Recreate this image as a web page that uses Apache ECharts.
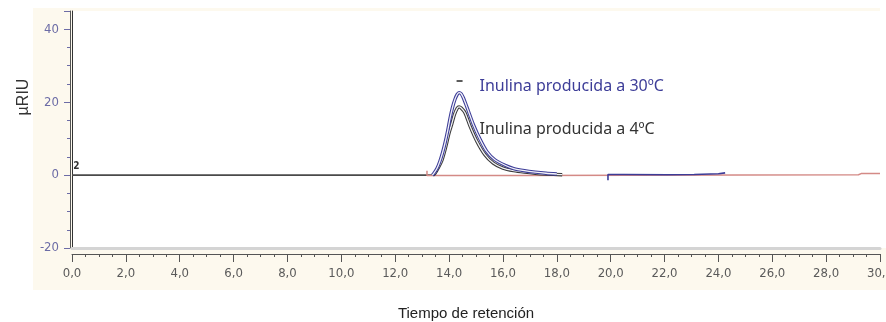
<!DOCTYPE html>
<html>
<head>
<meta charset="utf-8">
<script src="https://cdn.jsdelivr.net/npm/echarts@6/dist/echarts.min.js"></script>
<style>
  html, body { margin: 0; padding: 0; background: #ffffff; }
  #chart { width: 886px; height: 322px; }
</style>
</head>
<body>
<div id="chart"></div>
<script>
// Refractive-index chromatogram of two inulin samples (retention time in minutes, signal in µRIU)

// Flat baseline before the injection peak
const baseTime   = [0, 13.40];
const baseSignal = [0, 0];

// Inulin produced at 4 ºC
const time4C   = [13.40, 13.48, 13.60, 13.72, 13.82, 13.91, 14.00, 14.10, 14.20, 14.30, 14.37, 14.45, 14.59, 14.78, 15.03, 15.33, 15.64, 16.00, 16.40, 16.80, 17.20, 17.60, 18.20];
const signal4C = [0, 0.5, 2.0, 3.8, 6.2, 8.8, 11.6, 14.0, 16.6, 18.3, 18.7, 18.4, 17.1, 13.4, 9.3, 5.6, 3.3, 1.9, 1.2, 0.8, 0.5, 0.3, 0.1];

// Inulin produced at 30 ºC
const time30C   = [13.38, 13.42, 13.55, 13.66, 13.76, 13.85, 13.95, 14.04, 14.13, 14.22, 14.30, 14.37, 14.45, 14.53, 14.62, 14.72, 14.90, 15.15, 15.40, 15.70, 16.08, 16.40, 16.80, 17.20, 17.60, 18.00];
const signal30C = [0, 0.3, 1.8, 3.8, 6.2, 8.8, 12.2, 15.7, 18.6, 20.8, 22.1, 22.6, 22.3, 21.2, 19.5, 17.5, 13.9, 9.8, 6.5, 4.2, 2.7, 1.8, 1.2, 0.8, 0.5, 0.3];

// Late baseline drift of the 30 ºC run
const driftTime   = [19.90, 19.90, 20.50, 22.10, 23.10, 24.00, 24.25];
const driftSignal = [-1.4, 0.15, 0.15, 0.1, 0.15, 0.35, 0.6];

// Integration baseline
const integTime   = [13.18, 13.18, 16.55, 16.55, 29.20, 29.30, 30.00];
const integSignal = [1.2, -0.15, -0.15, 0.1, 0.1, 0.4, 0.4];

// Axis ranges and labels
const timeMin = 0, timeMax = 30, timeStep = 2;
const riuMin = -20, riuMax = 45, riuStep = 20;
const yAxisTitle = 'µRIU';
const xAxisTitle = 'Tiempo de retención';
const label30C = 'Inulina producida a 30ºC';
const label4C  = 'Inulina producida a 4ºC';
const peakTag  = '2';

const zip = (xs, ys) => xs.map((x, i) => [x, ys[i]]);

const NARROW = "'Liberation Sans Narrow', 'DejaVu Sans Condensed', sans-serif";
const BLUE = '#3d3d98';
const DARK = '#3a3a3a';
const AXIS_PURPLE = '#6c6ca6';

const chart = echarts.init(document.getElementById('chart'), null, { renderer: 'canvas' });

const hollowCore = (data) => ({
  type: 'line', data, xAxisIndex: 0, yAxisIndex: 0,
  showSymbol: false, silent: true, smooth: 0.25,
  lineStyle: { color: '#f2f2f8', width: 1.3 }, z: 4
});

const textMark = (coord, text, color) => ({
  coord, symbol: 'rect', symbolSize: 1,
  itemStyle: { color: 'rgba(0,0,0,0)' },
  label: {
    show: true, position: 'right', distance: 0, formatter: text,
    color, fontSize: 16, fontFamily: "'Noto Sans', 'Open Sans', sans-serif"
  }
});

chart.setOption({
  animation: false,
  backgroundColor: '#fdf9ee',
  grid: {
    left: 72, right: 6, top: 11, bottom: 74,
    outerBoundsMode: 'none', containLabel: false,
    show: true, backgroundColor: '#ffffff', borderWidth: 0
  },
  graphic: [
    { type: 'rect', shape: { x: 0, y: 0, width: 33, height: 322 }, style: { fill: '#ffffff' }, silent: true },
    { type: 'rect', shape: { x: 0, y: 0, width: 886, height: 8 }, style: { fill: '#ffffff' }, silent: true },
    { type: 'rect', shape: { x: 0, y: 290, width: 886, height: 32 }, style: { fill: '#ffffff' }, silent: true },
    { type: 'rect', shape: { x: 880, y: 8, width: 6, height: 240 }, style: { fill: '#ffffff' }, silent: true },
    {
      type: 'text', x: 24, y: 97, rotation: Math.PI / 2,
      style: {
        text: yAxisTitle, fill: '#333', fontSize: 16,
        fontFamily: "'Liberation Sans', Arial, sans-serif",
        align: 'center', verticalAlign: 'middle'
      }
    },
    {
      type: 'text', x: 466, y: 314,
      style: {
        text: xAxisTitle, fill: '#222', fontSize: 15,
        fontFamily: "'Liberation Sans', Arial, sans-serif",
        align: 'center', verticalAlign: 'middle'
      }
    }
  ],
  xAxis: [
    {
      type: 'value', min: timeMin, max: timeMax, interval: timeStep,
      position: 'bottom', offset: 0,
      axisLine: { onZero: false, lineStyle: { color: '#d4d4d4', width: 3 } },
      axisTick: { show: false }, axisLabel: { show: false }, splitLine: { show: false }
    },
    {
      type: 'value', min: timeMin, max: timeMax, interval: timeStep,
      position: 'bottom', offset: 6,
      axisLine: { onZero: false, lineStyle: { color: '#555', width: 1 } },
      axisTick: { show: true, length: 8, lineStyle: { color: '#555' } },
      minorTick: { show: true, splitNumber: 4, length: 3, lineStyle: { color: '#555' } },
      axisLabel: {
        margin: 13, color: '#5a5a5a', fontSize: 13, fontFamily: NARROW,
        formatter: (v) => v.toFixed(1).replace('.', ',')
      },
      splitLine: { show: false }
    }
  ],
  yAxis: [
    {
      type: 'value', min: riuMin, max: riuMax, interval: riuStep,
      position: 'left', offset: 0,
      axisLine: { show: true, onZero: false, lineStyle: { color: '#333', width: 1 } },
      axisTick: { show: false }, axisLabel: { show: false }, splitLine: { show: false }
    },
    {
      type: 'value', min: riuMin, max: riuMax, interval: riuStep,
      position: 'left', offset: 2,
      axisLine: { show: true, onZero: false, lineStyle: { color: '#555', width: 1 } },
      axisTick: { show: true, length: 6, lineStyle: { color: AXIS_PURPLE } },
      minorTick: { show: true, splitNumber: 4, length: 3, lineStyle: { color: AXIS_PURPLE } },
      axisLabel: {
        margin: 11, color: AXIS_PURPLE, fontSize: 13, fontFamily: NARROW,
        showMaxLabel: false
      },
      splitLine: { show: false }
    }
  ],
  series: [
    {
      name: 'baseline', type: 'line', data: zip(baseTime, baseSignal),
      xAxisIndex: 0, yAxisIndex: 0, showSymbol: false, silent: true,
      lineStyle: { color: '#4a4a4a', width: 1.6 }, z: 2,
      markPoint: {
        silent: true,
        data: [{
          coord: [0.16, 2.4], symbol: 'rect', symbolSize: 1,
          itemStyle: { color: 'rgba(0,0,0,0)' },
          label: { show: true, position: 'inside', formatter: peakTag, color: '#333', fontSize: 10, fontWeight: 'bold', fontFamily: NARROW }
        }]
      }
    },
    {
      name: 'integration', type: 'line', data: zip(integTime, integSignal),
      xAxisIndex: 0, yAxisIndex: 0, showSymbol: false, silent: true,
      lineStyle: { color: '#d48a86', width: 1.5 }, z: 2
    },
    {
      name: label4C, type: 'line', data: zip(time4C, signal4C),
      xAxisIndex: 0, yAxisIndex: 0, showSymbol: false, silent: true, smooth: 0.25,
      lineStyle: { color: DARK, width: 3.4 }, z: 3,
      markPoint: { silent: true, data: [textMark([15.11, 12.4], label4C, '#333')] }
    },
    hollowCore(zip(time4C, signal4C)),
    {
      name: label30C, type: 'line', data: zip(time30C, signal30C),
      xAxisIndex: 0, yAxisIndex: 0, showSymbol: false, silent: true, smooth: 0.25,
      lineStyle: { color: BLUE, width: 3.4 }, z: 5,
      markPoint: {
        silent: true,
        data: [
          textMark([15.11, 24.2], label30C, BLUE),
          { coord: [14.39, 25.8], symbol: 'rect', symbolSize: [6, 1.6], itemStyle: { color: '#333' }, label: { show: false } }
        ]
      }
    },
    Object.assign(hollowCore(zip(time30C, signal30C)), { z: 6 }),
    {
      name: 'drift', type: 'line', data: zip(driftTime, driftSignal),
      xAxisIndex: 0, yAxisIndex: 0, showSymbol: false, silent: true,
      lineStyle: { color: BLUE, width: 1.6 }, z: 5
    }
  ]
});
</script>
</body>
</html>
